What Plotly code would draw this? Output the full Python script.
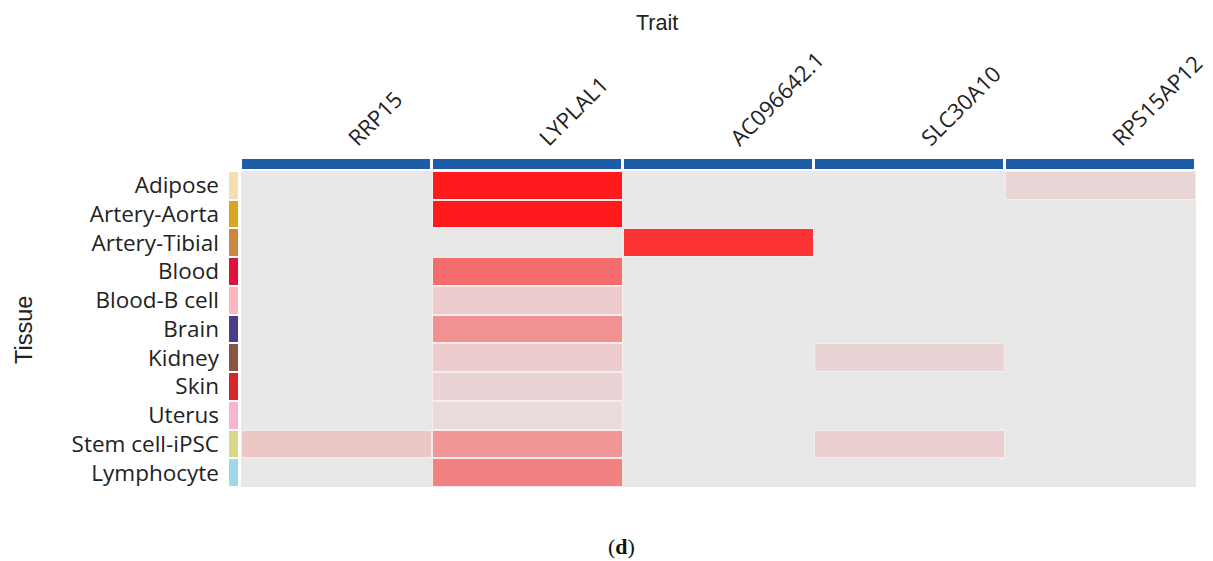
import plotly.graph_objects as go

tissues = ["Adipose", "Artery-Aorta", "Artery-Tibial", "Blood", "Blood-B cell", "Brain",
           "Kidney", "Skin", "Uterus", "Stem cell-iPSC", "Lymphocyte"]
tissue_colors = ["#f5deb3", "#daa520", "#cd853f", "#dc143c", "#ffb6c1", "#483d8b",
                 "#8b5446", "#d62728", "#f5b5d5", "#d9d98b", "#9edae5"]
traits = ["RRP15", "LYPLAL1", "AC096642.1", "SLC30A10", "RPS15AP12"]

# values per trait, in tissue order
rrp15 = [0, 0, 0, 0, 0, 0, 0, 0, 0, 0.17, 0]
lyplal1 = [1.0, 1.0, 0, 0.60, 0.14, 0.42, 0.14, 0.10, 0.07, 0.40, 0.50]
ac096642 = [0, 0, 0.88, 0, 0, 0, 0, 0, 0, 0, 0]
slc30a10 = [0, 0, 0, 0, 0, 0, 0.10, 0, 0, 0.12, 0]
rps15ap12 = [0.09, 0, 0, 0, 0, 0, 0, 0, 0, 0, 0]

cols = [rrp15, lyplal1, ac096642, slc30a10, rps15ap12]
z = [[cols[j][i] for j in range(len(traits))] for i in range(len(tissues))]
z_mask = [[1 if v > 0 else 0 for v in row] for row in z]
z_col = [[v if v > 0 else None for v in row] for row in z]

# page body adds an 8px offset; positions below are in reference-image pixels
OFF = 8
W, H = 1213, 561
fx = lambda a: (a - OFF) / W
fy = lambda a: 1 - (a - OFF) / H
px = lambda a, b: [fx(a), fx(b)]
py = lambda top, bot: [fy(bot), fy(top)]

font = "Open Sans, Noto Sans, sans-serif"
sfont = "Liberation Sans, Arial, sans-serif"
txt = "#222222"

fig = go.Figure()

# base layer: gray for empty cells, light border tone for filled cells
fig.add_trace(go.Heatmap(x=traits, y=tissues, z=z_mask, zmin=0, zmax=1,
                         colorscale=[[0, "#e8e8e8"], [1, "#f7ecec"]],
                         showscale=False, hoverinfo="skip", xaxis="x", yaxis="y"))
# coloured cells
fig.add_trace(go.Heatmap(x=traits, y=tissues, z=z_col, zmin=0, zmax=1,
                         colorscale=[[0, "#e8e8e8"], [1, "#fe1a1c"]],
                         xgap=2, ygap=2, showscale=False, hoverinfo="skip",
                         xaxis="x", yaxis="y"))
# header bar
fig.add_trace(go.Heatmap(x=traits, y=["h"], z=[[1] * len(traits)], zmin=0, zmax=1,
                         colorscale=[[0, "#1f5ca8"], [1, "#1f5ca8"]],
                         xgap=3, showscale=False, hoverinfo="skip",
                         xaxis="x2", yaxis="y2"))
# tissue colour strip
n = len(tissues)
strip_cs = [[i / (n - 1), c] for i, c in enumerate(tissue_colors)]
fig.add_trace(go.Heatmap(x=["t"], y=tissues, z=[[i] for i in range(n)], zmin=0, zmax=n - 1,
                         colorscale=strip_cs, ygap=2, showscale=False, hoverinfo="skip",
                         xaxis="x3", yaxis="y3"))

common = dict(showgrid=False, zeroline=False, ticks="", automargin=False)

fig.update_layout(
    width=W, height=H,
    margin=dict(l=0, r=0, t=0, b=0, autoexpand=False),
    paper_bgcolor="white", plot_bgcolor="white",
    font=dict(family=font, color=txt, size=20),
    xaxis=dict(domain=px(241, 1196), anchor="y", showticklabels=False, **common),
    yaxis=dict(domain=py(171, 487), anchor="x", showticklabels=False,
               autorange="reversed", **common),
    xaxis2=dict(domain=px(241, 1196), anchor="y2", side="top", tickangle=-45,
                ticklabelstandoff=3,
                tickmode="array", tickvals=[i + 0.07 for i in range(len(traits))],
                ticktext=traits,
                tickfont=dict(size=22, family=font, color=txt), **common),
    yaxis2=dict(domain=py(159, 169), anchor="x2", showticklabels=False, **common),
    xaxis3=dict(domain=px(229, 238), anchor="y3", showticklabels=False, **common),
    yaxis3=dict(domain=py(171, 487), anchor="x3",
                autorange="reversed", ticklabelstandoff=9,
                tickfont=dict(size=22.5, family=font, color=txt), **common),
    annotations=[
        dict(text="Trait", x=fx(657), y=fy(23), xref="paper", yref="paper",
             xanchor="center", yanchor="middle",
             showarrow=False, font=dict(size=21.5, family=sfont, color=txt)),
        dict(text="Tissue", x=fx(24), y=fy(330), xref="paper", yref="paper",
             xanchor="center", yanchor="middle",
             showarrow=False, textangle=-90, font=dict(size=23.5, family=sfont, color=txt)),
        dict(text="(<b>d</b>)", x=fx(621), y=fy(546), xref="paper", yref="paper",
             xanchor="center", yanchor="middle",
             showarrow=False, font=dict(size=22, family="Liberation Serif, serif", color="#111")),
    ],
)

fig.write_html("out.html")
